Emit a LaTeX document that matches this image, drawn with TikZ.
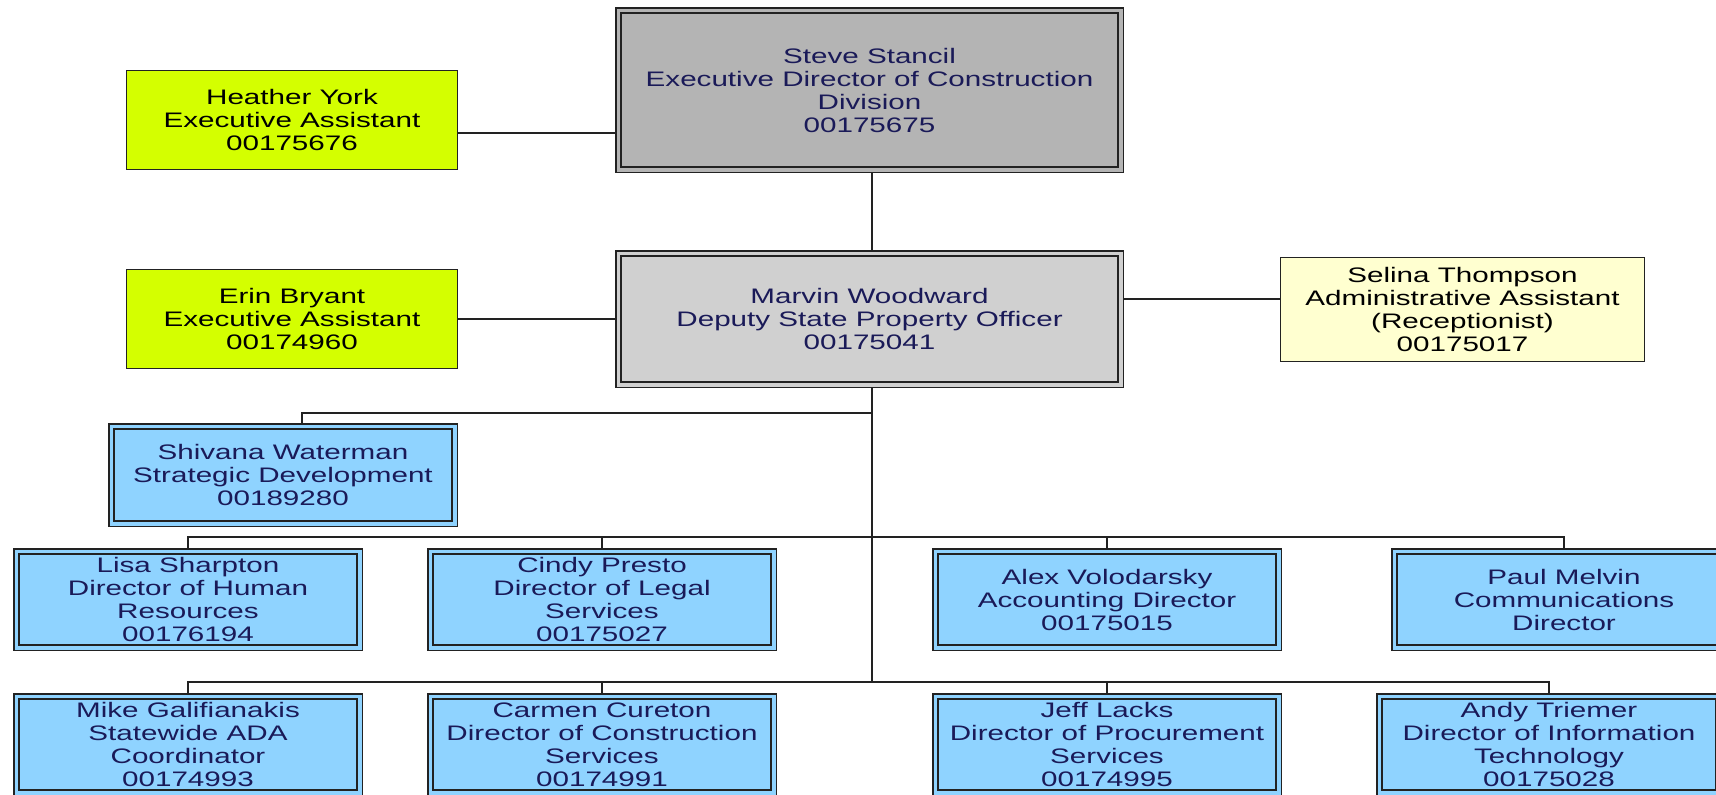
\documentclass[tikz,border=0pt]{standalone}
\usepackage{fontspec}
\setmainfont[FakeStretch=1.41]{Liberation Sans}
\definecolor{bluefill}{HTML}{8FD3FF}
\definecolor{grayA}{HTML}{B4B4B4}
\definecolor{grayB}{HTML}{D0D0D0}
\definecolor{limefill}{HTML}{D4FF00}
\definecolor{creamfill}{HTML}{FFFFD0}
\definecolor{linegray}{HTML}{222222}
\definecolor{navytext}{HTML}{1A1A58}
\pgfdeclarelayer{bg}
\pgfsetlayers{bg,main}
\tikzset{
  boxtext/.style={align=center, inner sep=0pt, font=\fontsize{10.5pt}{11.5pt}\selectfont},
  dblbox/.style={boxtext, rectangle, draw=linegray, line width=0.75pt, double=#1, double distance=1.9pt, fill=#1, text=navytext},
  sglbox/.style={boxtext, rectangle, draw=linegray, line width=0.75pt, fill=#1, text=black},
  conn/.style={draw=linegray, line width=0.75pt},
}
\begin{document}
\begin{tikzpicture}[x=0.5pt, y=-0.5pt]
\useasboundingbox (0,0) rectangle (1716,794);
\clip (0,0) rectangle (1716,794);

% top levels
\node[dblbox=grayA, minimum width=251.1pt, minimum height=79.6pt] (steve) at (869.5,90)
  {Steve Stancil\\Executive Director of Construction\\Division\\00175675};
\node[sglbox=limefill, minimum width=165.3pt, minimum height=49.3pt] (heather) at (292,120)
  {Heather York\\Executive Assistant\\00175676};
\node[dblbox=grayB, minimum width=251.1pt, minimum height=65.6pt] (marvin) at (869.5,319)
  {Marvin Woodward\\Deputy State Property Officer\\00175041};
\node[sglbox=limefill, minimum width=165.3pt, minimum height=49.3pt] (erin) at (292,319)
  {Erin Bryant\\Executive Assistant\\00174960};
\node[sglbox=creamfill, minimum width=181.8pt, minimum height=51.8pt] (selina) at (1462.5,309.5)
  {Selina Thompson\\Administrative Assistant\\(Receptionist)\\00175017};
\node[dblbox=bluefill, minimum width=171.6pt, minimum height=48.6pt] (shivana) at (283,475)
  {Shivana Waterman\\Strategic Development\\00189280};

% row 2
\node[dblbox=bluefill, minimum width=171.6pt, minimum height=48.1pt] (lisa) at (188,599.5)
  {Lisa Sharpton\\Director of Human\\Resources\\00176194};
\node[dblbox=bluefill, minimum width=171.6pt, minimum height=48.1pt] (cindy) at (602,599.5)
  {Cindy Presto\\Director of Legal\\Services\\00175027};
\node[dblbox=bluefill, minimum width=171.6pt, minimum height=48.1pt] (alex) at (1107,599.5)
  {Alex Volodarsky\\Accounting Director\\00175015};
\node[dblbox=bluefill, minimum width=169.6pt, minimum height=48.1pt] (paul) at (1564,599.5)
  {Paul Melvin\\Communications\\Director};

% row 3
\node[dblbox=bluefill, minimum width=171.6pt, minimum height=48.1pt] (mike) at (188,744.5)
  {Mike Galifianakis\\Statewide ADA\\Coordinator\\00174993};
\node[dblbox=bluefill, minimum width=171.6pt, minimum height=48.1pt] (carmen) at (602,744.5)
  {Carmen Cureton\\Director of Construction\\Services\\00174991};
\node[dblbox=bluefill, minimum width=171.6pt, minimum height=48.1pt] (jeff) at (1107,744.5)
  {Jeff Lacks\\Director of Procurement\\Services\\00174995};
\node[dblbox=bluefill, minimum width=169.6pt, minimum height=48.1pt] (andy) at (1549,744.5)
  {Andy Triemer\\Director of Information\\Technology\\00175028};

% helper coordinates
\coordinate (trunk) at (872,0);
\coordinate (hy) at (0,133);
\coordinate (sy) at (0,299);
\coordinate (busS) at (0,413);
\coordinate (shstub) at (302,0);
\coordinate (bustwo) at (0,537);
\coordinate (busthree) at (0,682);

\begin{pgfonlayer}{bg}
\draw[conn] (heather.east |- hy) -- (steve.west |- hy);
\draw[conn] (erin.east) -- (marvin.west);
\draw[conn] (marvin.east |- sy) -- (selina.west |- sy);
\draw[conn] (steve.south -| trunk) -- (marvin.north -| trunk);
\draw[conn] (marvin.south -| trunk) -- (trunk |- busthree);
\draw[conn] (trunk |- busS) -| (shstub |- shivana.north);
% row 2 bus
\draw[conn] (lisa.north) -- (lisa.north |- bustwo) -- (paul.north |- bustwo) -- (paul.north);
\draw[conn] (cindy.north) -- (cindy.north |- bustwo);
\draw[conn] (alex.north) -- (alex.north |- bustwo);
% row 3 bus
\draw[conn] (mike.north) -- (mike.north |- busthree) -- (andy.north |- busthree) -- (andy.north);
\draw[conn] (carmen.north) -- (carmen.north |- busthree);
\draw[conn] (jeff.north) -- (jeff.north |- busthree);
\end{pgfonlayer}
\end{tikzpicture}
\end{document}
